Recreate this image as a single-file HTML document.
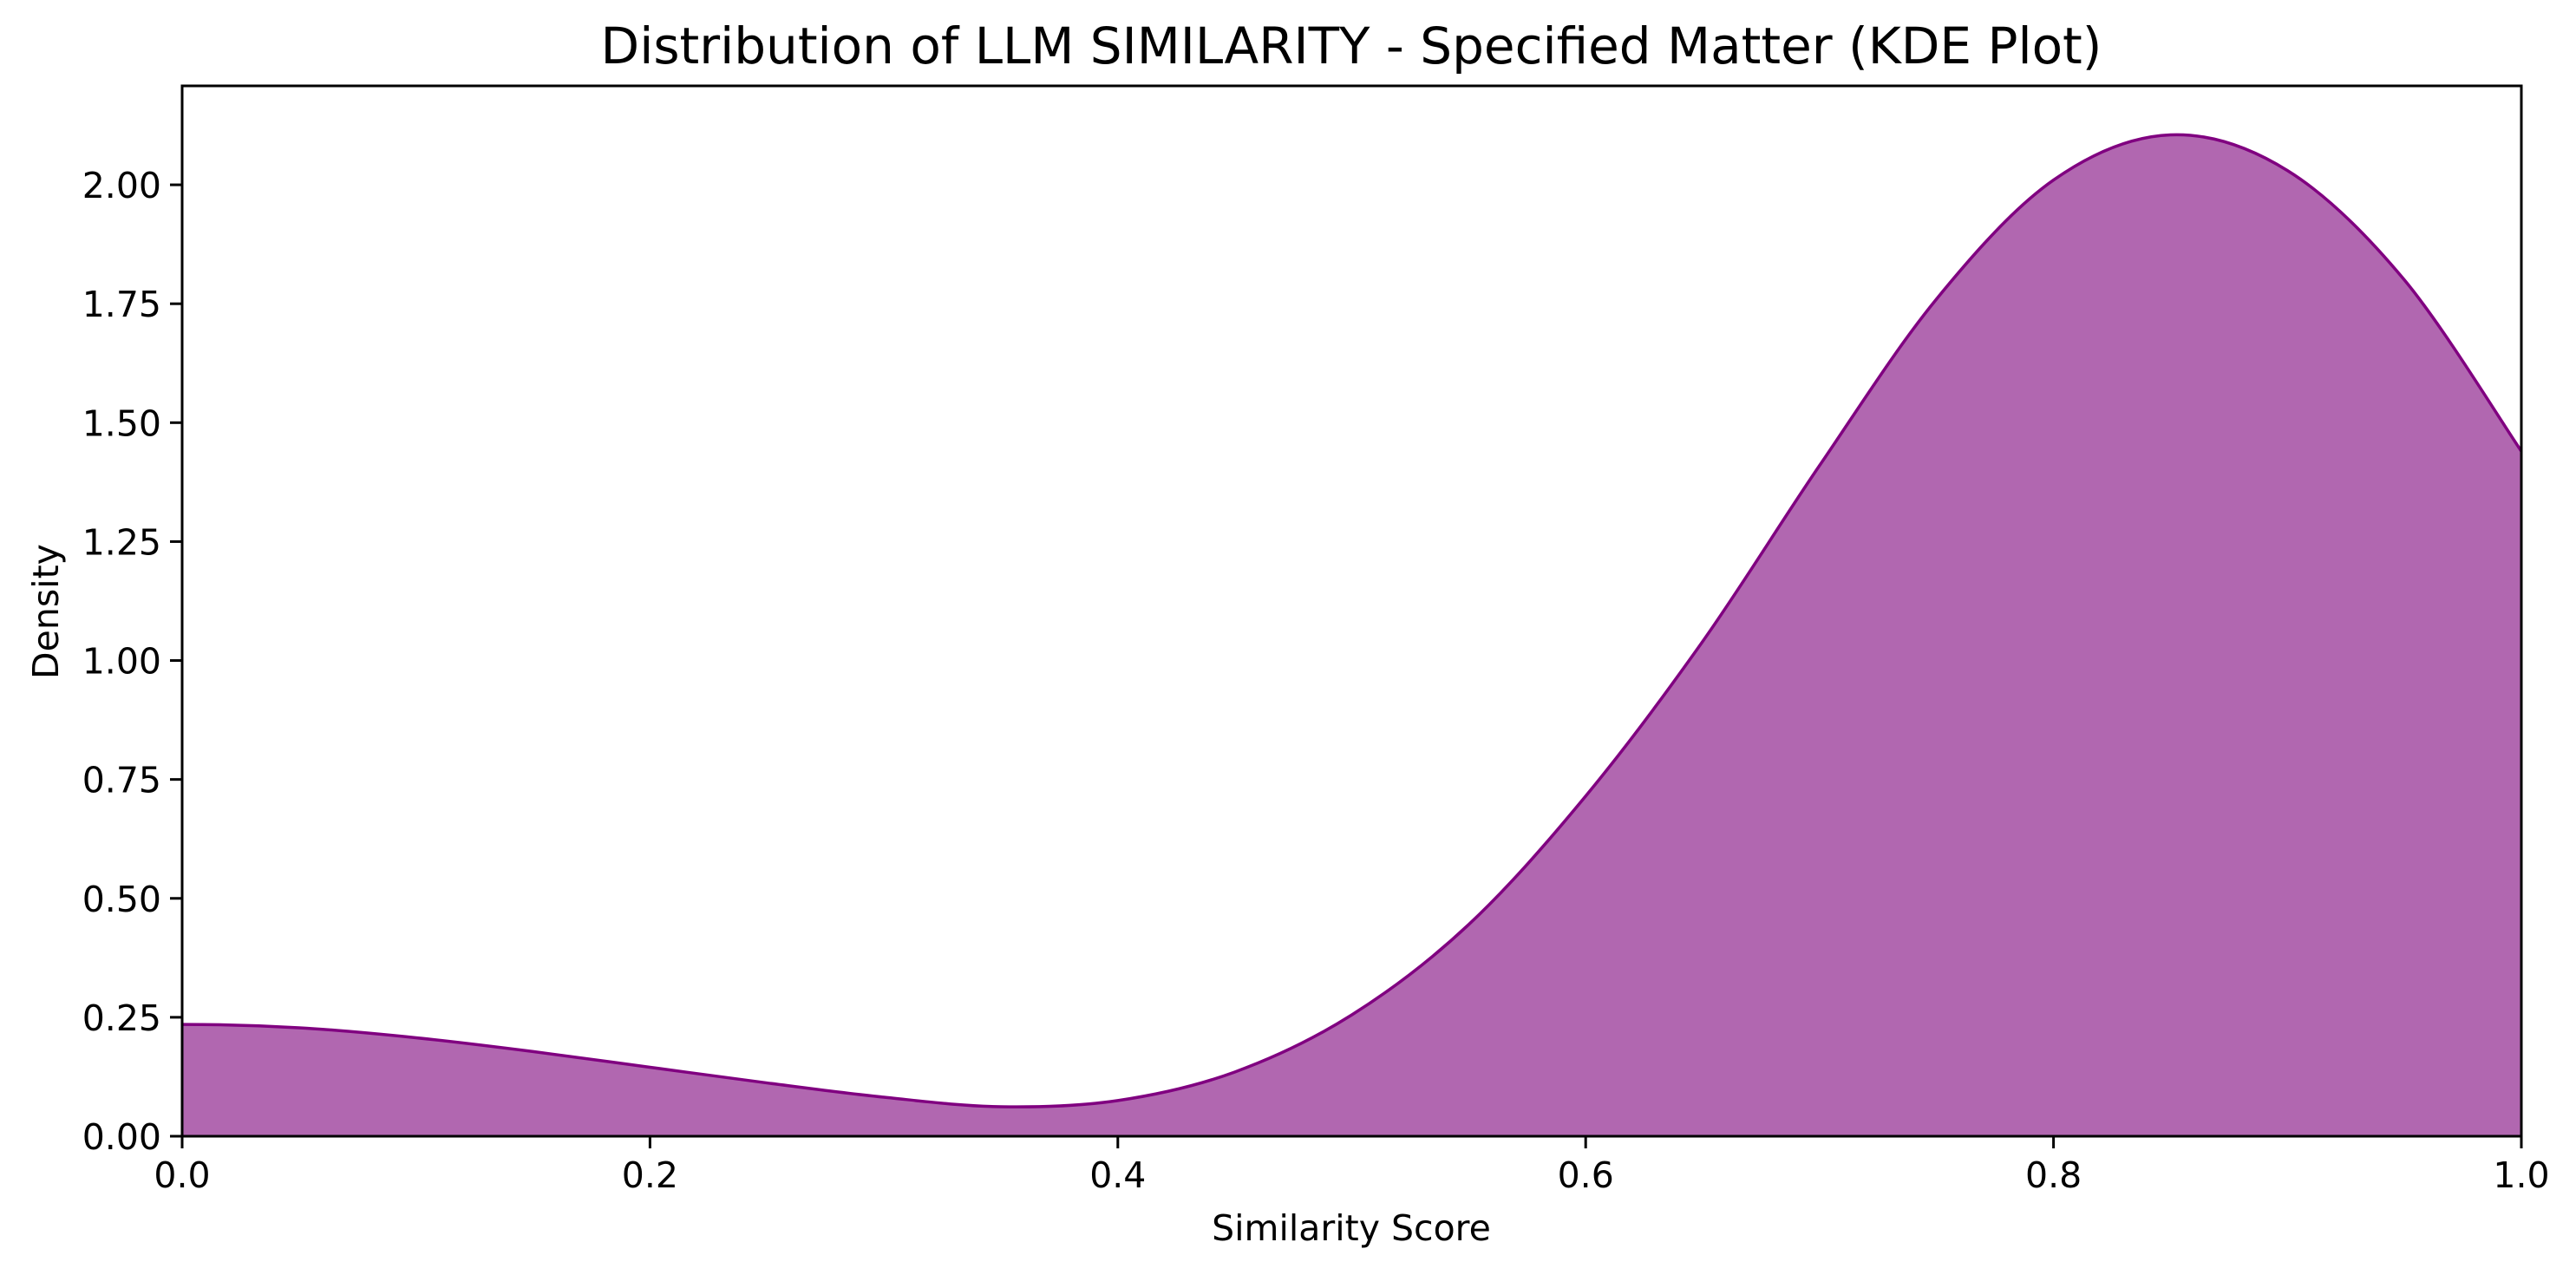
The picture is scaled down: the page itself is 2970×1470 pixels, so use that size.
<!DOCTYPE html>
<html><head><meta charset="utf-8"><style>
html,body{margin:0;padding:0;background:#fff;}
svg{display:block;font-family:"DejaVu Sans","Liberation Sans",sans-serif;}
</style></head><body>
<svg id="chart" width="2970" height="1470" viewBox="0 0 2970 1470">
<rect width="2970" height="1470" fill="#fff"/>
<g id="plot"></g>
<text x="1558" y="73" font-size="58" text-anchor="middle" fill="#000">Distribution of LLM SIMILARITY - Specified Matter (KDE Plot)</text>
<text x="1558" y="1430" font-size="41" text-anchor="middle" fill="#000">Similarity Score</text>
<text x="0" y="0" font-size="41" text-anchor="middle" fill="#000" transform="translate(67,705) rotate(-90)">Density</text>
</svg>
<script>
const xValues = [0,0.05,0.1,0.15,0.2,0.25,0.3,0.35,0.4,0.45,0.5,0.55,0.6,0.65,0.7,0.75,0.8,0.85,0.9,0.95,1.0];
const densityValues = [0.235,0.228,0.207,0.178,0.145,0.112,0.082,0.062,0.075,0.135,0.255,0.445,0.715,1.04,1.41,1.76,2.01,2.105,2.03,1.80,1.44];
const xTicks = [0,0.2,0.4,0.6,0.8,1.0];
const xTickLabels = ["0.0","0.2","0.4","0.6","0.8","1.0"];
const yTicks = [0,0.25,0.5,0.75,1.0,1.25,1.5,1.75,2.0];
const yTickLabels = ["0.00","0.25","0.50","0.75","1.00","1.25","1.50","1.75","2.00"];

const L=210,R=2907,T=99,B=1310,YMAX=2.208;
const sx=v=>L+(v-0)/(1-0)*(R-L);
const sy=v=>B-v/YMAX*(B-T);
const NS='http://www.w3.org/2000/svg';
const g=document.getElementById('plot');
function mk(tag,attrs){const e=document.createElementNS(NS,tag);for(const k in attrs)e.setAttribute(k,attrs[k]);return e;}

const pts=xValues.map((x,i)=>[sx(x),sy(densityValues[i])]);
let d='M'+pts[0][0]+','+pts[0][1];
for(let i=0;i<pts.length-1;i++){
  const p0=i===0?[2*pts[0][0]-pts[1][0],pts[1][1]]:pts[i-1];
  const p1=pts[i],p2=pts[i+1];
  const p3=pts[Math.min(pts.length-1,i+2)];
  const c1=[p1[0]+(p2[0]-p0[0])/6,p1[1]+(p2[1]-p0[1])/6];
  const c2=[p2[0]-(p3[0]-p1[0])/6,p2[1]-(p3[1]-p1[1])/6];
  d+=` C${c1[0]},${c1[1]} ${c2[0]},${c2[1]} ${p2[0]},${p2[1]}`;
}
const area=mk('path',{d:d+` L${sx(xValues[xValues.length-1])},${sy(0)} L${sx(xValues[0])},${sy(0)} Z`,fill:'#b167b0',stroke:'none'});


g.appendChild(area);
const line=mk('path',{d:d,fill:'none',stroke:'#800080','stroke-width':3.5});


g.appendChild(line);

const frame=mk('rect',{x:L,y:T,width:R-L,height:B-T,fill:'none',stroke:'#000','stroke-width':3});


g.appendChild(frame);

xTicks.forEach((v,i)=>{
  const x=sx(v);
  const t=mk('line',{x1:x,x2:x,y1:B,y2:B+14,stroke:'#000','stroke-width':3});
  
  
  g.appendChild(t);
  const lb=mk('text',{x:x,y:B+59,'font-size':41,'text-anchor':'middle',fill:'#000'});
  lb.textContent=xTickLabels[i];
  
  
  g.appendChild(lb);
});
yTicks.forEach((v,i)=>{
  const y=sy(v);
  const t=mk('line',{x1:L-14,x2:L,y1:y,y2:y,stroke:'#000','stroke-width':3});
  
  
  g.appendChild(t);
  const lb=mk('text',{x:L-24,y:y+15,'font-size':41,'text-anchor':'end',fill:'#000'});
  lb.textContent=yTickLabels[i];
  
  
  g.appendChild(lb);
});
</script>
</body></html>
